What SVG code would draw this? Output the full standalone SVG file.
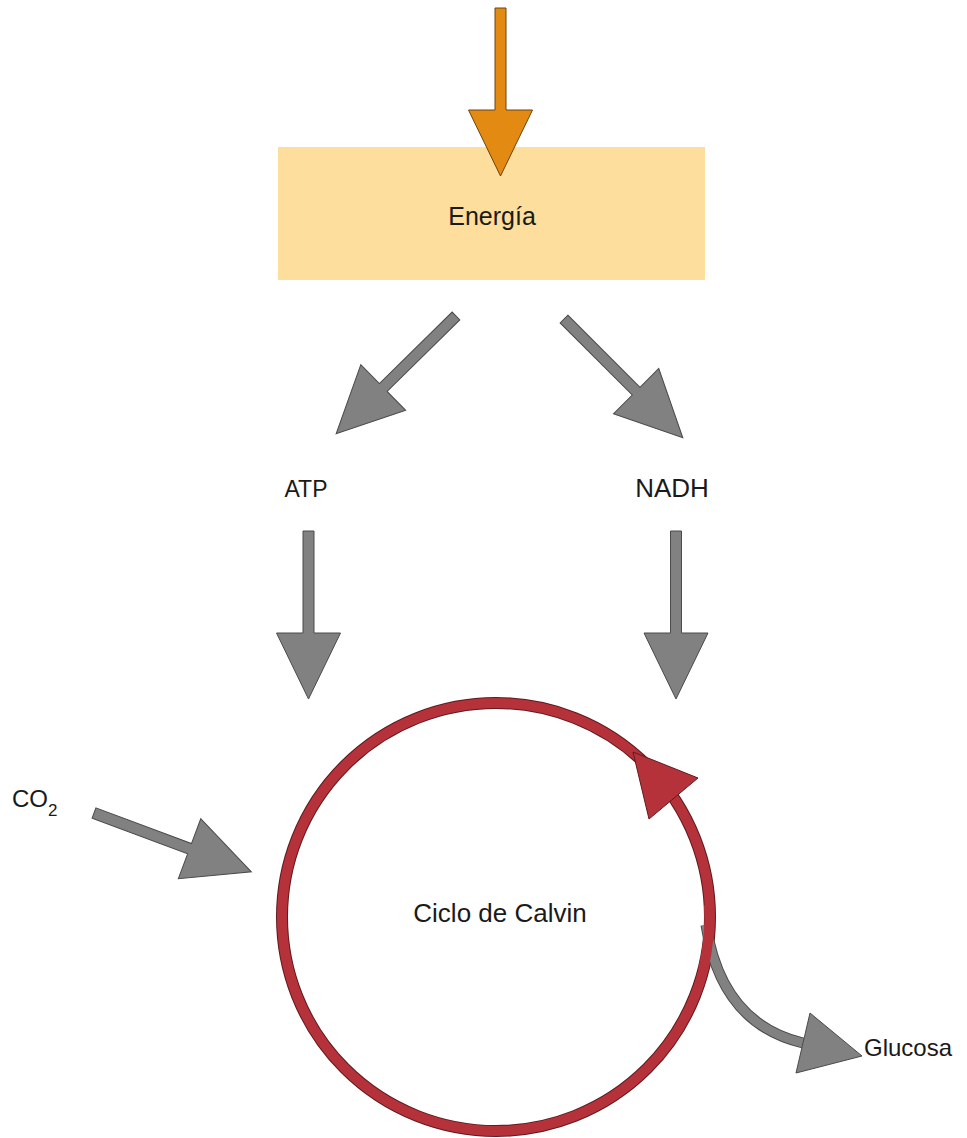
<svg xmlns="http://www.w3.org/2000/svg" width="967" height="1138" viewBox="0 0 967 1138">
  <style>
    .lbl { font-family: "Liberation Sans", Arial, sans-serif; font-size: 24px; fill: #1a1a1a; }
    .grey { fill: #818181; stroke: #4a4a4a; stroke-width: 1; stroke-linejoin: miter; }
    .orange { fill: #E38A12; stroke: #6e4210; stroke-width: 1; }
    .red { fill: #B6323A; stroke: #5e1a1e; stroke-width: 1; }
  </style>
  <defs>
    <!-- straight block arrow pointing along +x, tail at origin -->
    <path id="arrowA" d="M0,-5.5 H102 V-32 L168,0 L102,32 V5.5 H0 Z"/>
  </defs>

  <rect width="967" height="1138" fill="#ffffff"/>

  <!-- Energy box -->
  <g id="energia">
    <rect x="278" y="147" width="427" height="133" fill="#FDDE9C"/>
    <text class="lbl" x="492" y="225" text-anchor="middle" style="font-size:25px">Energía</text>
  </g>

  <g id="atp">
    <text class="lbl" x="306" y="497" text-anchor="middle" style="font-size:23px">ATP</text>
  </g>

  <g id="nadh">
    <text class="lbl" x="672" y="497" text-anchor="middle" style="font-size:26px">NADH</text>
  </g>

  <g id="co2">
    <text class="lbl" x="12" y="807">CO<tspan style="font-size:17px" dy="9">2</tspan></text>
  </g>

  <g id="glucosa">
    <text class="lbl" x="864" y="1056">Glucosa</text>
  </g>

  <!-- Calvin cycle ring -->
  <g id="ciclo">
    <circle cx="496" cy="917" r="214" fill="none" stroke="#5e1a1e" stroke-width="12"/>
    <circle cx="496" cy="917" r="214" fill="none" stroke="#B6323A" stroke-width="10"/>
    <polygon class="red" points="633,752 698,778 649,819"/>
    <text class="lbl" x="500" y="922" text-anchor="middle" style="font-size:26px">Ciclo de Calvin</text>
  </g>

  <g id="connectors">
    <!-- light input -->
    <use href="#arrowA" class="orange" transform="translate(500.5,8) rotate(90)"/>
    <!-- energy to ATP / NADH -->
    <use href="#arrowA" class="grey" transform="translate(456,316) rotate(135.5)"/>
    <use href="#arrowA" class="grey" transform="translate(564,319) rotate(45)"/>
    <!-- ATP / NADH into the cycle -->
    <use href="#arrowA" class="grey" transform="translate(308.5,531) rotate(90)"/>
    <use href="#arrowA" class="grey" transform="translate(676,531) rotate(90)"/>
    <!-- CO2 into the cycle -->
    <use href="#arrowA" class="grey" transform="translate(94,813) rotate(20.5)"/>
    <!-- glucose output -->
    <path d="M706,925 C716,990 748,1030 803,1043" fill="none" stroke="#4a4a4a" stroke-width="11"/>
    <path d="M706,925 C716,990 748,1030 803,1043" fill="none" stroke="#818181" stroke-width="9"/>
    <polygon class="grey" points="810,1013 862,1056 796,1073"/>
  </g>

  <!-- ring redrawn over the start of the glucose arrow -->
  <path d="M709,905 A214,214 0 0 1 703,970" fill="none" stroke="#B6323A" stroke-width="10"/>
</svg>
